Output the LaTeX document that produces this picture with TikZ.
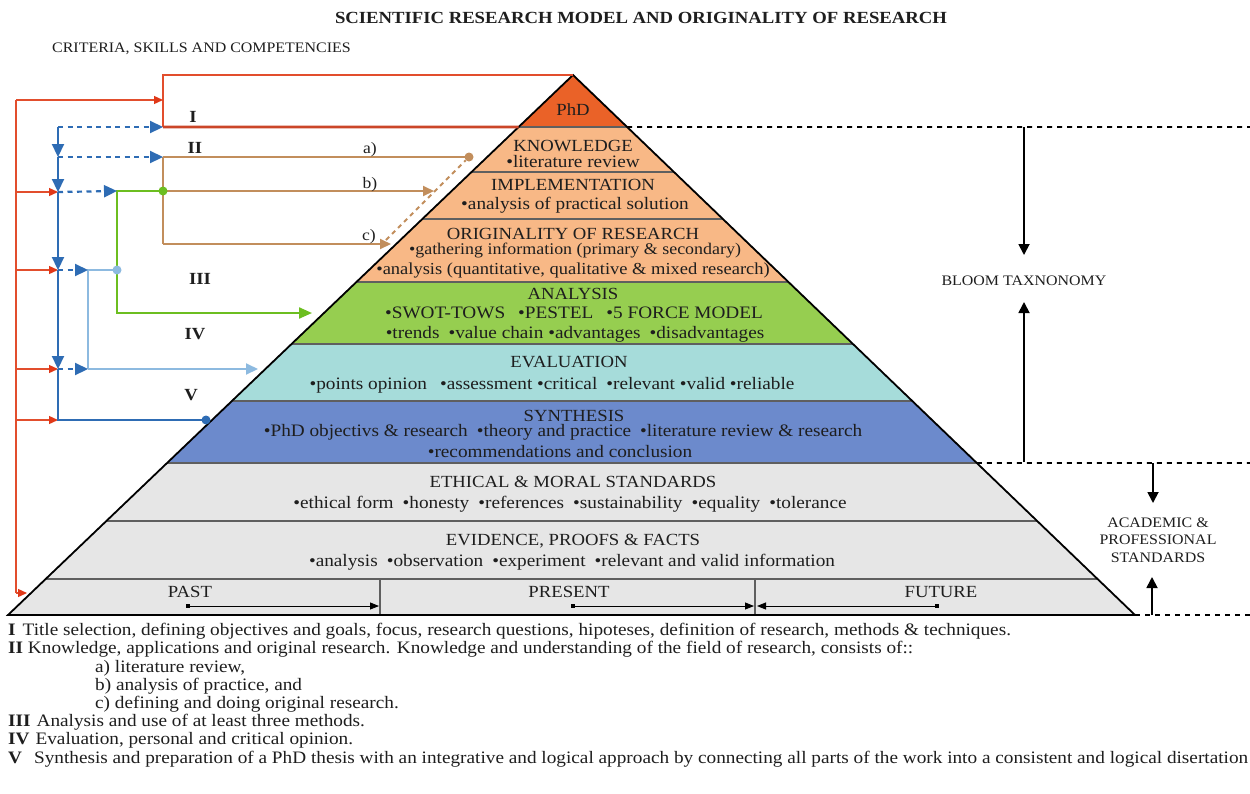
\documentclass[tikz,border=0pt]{standalone}
\usepackage{fontspec}
\setmainfont{Liberation Serif}[FakeStretch=1.1]
\usetikzlibrary{arrows.meta,calc}
\definecolor{phdc}{RGB}{234,98,40}
\definecolor{peach}{RGB}{248,184,134}
\definecolor{greenfill}{RGB}{150,206,80}
\definecolor{tealfill}{RGB}{166,220,218}
\definecolor{bluefill}{RGB}{108,138,204}
\definecolor{grayfill}{RGB}{230,230,230}
\definecolor{sepgray}{RGB}{95,95,95}
\definecolor{redline}{RGB}{226,78,45}
\definecolor{redtipc}{RGB}{224,56,24}
\definecolor{bluel}{RGB}{46,108,180}
\definecolor{lblue}{RGB}{141,186,224}
\definecolor{greenl}{RGB}{108,190,32}
\definecolor{tanl}{RGB}{194,142,92}
\definecolor{txtc}{RGB}{30,30,30}
\newcommand\pyrlayer[3]{\fill[#3] ($(A)!{(#1-75)/540}!(BL)$) -- ($(A)!{(#1-75)/540}!(BR)$) -- ($(A)!{(#2-75)/540}!(BR)$) -- ($(A)!{(#2-75)/540}!(BL)$) -- cycle;}
\newcommand\pyrsep[1]{\draw[sepline] ($(A)!{(#1-75)/540}!(BL)$) -- ($(A)!{(#1-75)/540}!(BR)$);}
\newcommand\gL{\hspace{13pt}}
\newcommand\gM{\hspace{9pt}}
\begin{document}
\begin{tikzpicture}[x=1pt,y=-1pt,
  txt/.style={inner sep=0pt, text=txtc},
  head/.style={txt, font=\fontsize{17}{17}\selectfont, anchor=base},
  bul/.style={txt, font=\fontsize{17.5}{17.5}\selectfont, anchor=base},
  rom/.style={txt, font=\fontsize{17}{17}\selectfont\bfseries, anchor=base},
  sml/.style={txt, font=\fontsize{16}{16}\selectfont, anchor=base},
  side/.style={txt, font=\fontsize{14.5}{14.5}\selectfont, anchor=base},
  leg/.style={txt, font=\fontsize{17.5}{17.5}\selectfont, anchor=base west},
  sepline/.style={draw=sepgray, line width=1.1pt},
  redl/.style={draw=redline, line width=1.3pt},
  redtip/.style={redl, -{Triangle[length=9pt,width=8pt,color=redtipc]}},
  bluel/.style={draw=bluel, line width=2.2pt},
  bluetip/.style={bluel, -{Triangle[length=13pt,width=12pt]}},
  bluedash/.style={bluetip, dash pattern=on 5pt off 4.5pt},
  tanln/.style={draw=tanl, line width=2pt},
  tantip/.style={tanln, -{Triangle[length=11pt,width=10pt]}},
  greenln/.style={draw=greenl, line width=2.2pt},
  lbln/.style={draw=lblue, line width=2pt},
  blk/.style={draw=black, line width=1.8pt, -{Triangle[length=11pt,width=11pt]}},
  blkdash/.style={draw=black, line width=1.7pt, dash pattern=on 5pt off 5pt},
  timearr/.style={draw=black, line width=0.9pt, {Square[length=4pt,width=4pt]}-{Triangle[length=9pt,width=7pt]}},
  dot/.style={circle, inner sep=0pt, minimum size=9pt}
]
\useasboundingbox (0,0) rectangle (1250,793);
\fill[white] (0,0) rectangle (1250,793);
\coordinate (A) at (573,75);
\coordinate (BL) at (8,615);
\coordinate (BR) at (1135,615);

% pyramid layers
\pyrlayer{75}{127}{phdc}
\pyrlayer{127}{282}{peach}
\pyrlayer{282}{344}{greenfill}
\pyrlayer{344}{401}{tealfill}
\pyrlayer{401}{463}{bluefill}
\pyrlayer{463}{615}{grayfill}
\pyrsep{127}\pyrsep{172}\pyrsep{219}\pyrsep{282}\pyrsep{344}
\pyrsep{401}\pyrsep{463}\pyrsep{521}\pyrsep{579}
\coordinate (tp1) at (380,579); \coordinate (tp2) at (380,615);
\coordinate (tf1) at (755,579); \coordinate (tf2) at (755,615);
\draw[sepgray, line width=1.1pt] (tp1) -- (tp2) (tf1) -- (tf2);
\draw[black, line width=1.8pt, line join=miter] (BL) -- (A) -- (BR) -- cycle;

% layer texts
\node[head] (phd) at (573,115) {PhD};
\node[head] (kn) at (573,151) {KNOWLEDGE};
\node[bul] (kn1) at (573,167) {•literature review};
\node[head] (imp) at (573,190) {IMPLEMENTATION};
\node[bul] (imp1) at (575,209) {•analysis of practical solution};
\node[head] (ori) at (573,239) {ORIGINALITY OF RESEARCH};
\node[bul, font=\fontsize{16.3}{16.3}\selectfont] (ori1) at (575,254) {•gathering information (primary \& secondary)};
\node[bul, font=\fontsize{16.8}{16.8}\selectfont] (ori2) at (573,274) {•analysis (quantitative, qualitative \& mixed research)};
\node[head] (ana) at (573,299) {ANALYSIS};
\node[bul] (ana1) at (574,318) {•SWOT-TOWS\gL •PESTEL\gL •5 FORCE MODEL};
\node[bul] (ana2) at (575,338) {•trends\gM •value chain •advantages\gM •disadvantages};
\node[head] (eva) at (569,367) {EVALUATION};
\node[bul] (eva1) at (552,389) {•points opinion\gL •assessment •critical\gM •relevant •valid •reliable};
\node[head] (syn) at (574,421) {SYNTHESIS};
\node[bul] (syn1) at (563,436) {•PhD objectivs \& research\gM •theory and practice\gM •literature review \& research};
\node[bul] (syn2) at (560,457) {•recommendations and conclusion};
\node[head] (eth) at (573,487) {ETHICAL \& MORAL STANDARDS};
\node[bul] (eth1) at (570,508) {•ethical form\gM •honesty\gM •references\gM •sustainability\gM •equality\gM •tolerance};
\node[head] (evi) at (573,545) {EVIDENCE, PROOFS \& FACTS};
\node[bul] (evi1) at (572,566) {•analysis\gM •observation\gM •experiment\gM •relevant and valid information};
\node[head] (past) at (190,597) {PAST};
\node[head] (pres) at (569,597) {PRESENT};
\node[head] (fut) at (941,597) {FUTURE};

% time arrows
\coordinate (pa0) at (186,606); \coordinate (pa1) at (379,606);
\coordinate (pr0) at (571,606); \coordinate (pr1) at (754,606);
\coordinate (fu0) at (939,606); \coordinate (fu1) at (757,606);
\draw[timearr] (pa0) -- (pa1);
\draw[timearr] (pr0) -- (pr1);
\draw[timearr] (fu0) -- (fu1);

% right side
\coordinate (R127) at ($(A)!{52/540}!(BR)$);
\coordinate (R463) at ($(A)!{388/540}!(BR)$);
\coordinate (E127) at (1250,127);
\coordinate (E463) at (1250,463);
\coordinate (E615) at (1250,615);
\draw[blkdash] (R127) -- (E127);
\draw[blkdash] (R463) -- (E463);
\draw[blkdash] (BR) -- (E615);
\node[side] (bloom) at (1024,285) {BLOOM TAXNONOMY};
\node[side] (acad1) at (1158,527) {ACADEMIC \&};
\node[side] (acad2) at (1158,544) {PROFESSIONAL};
\node[side] (acad3) at (1158,562) {STANDARDS};
\coordinate (bt0) at (1024,127); \coordinate (bt1) at (1024,462);
\coordinate (bt2) at (1024,255); \coordinate (bt3) at (1024,302);
\coordinate (as0) at (1153,463); \coordinate (as1) at (1152,615);
\coordinate (as2) at (1153,503); \coordinate (as3) at (1152,577);
\draw[blk] (bt0) -- (bt2);
\draw[blk] (bt1) -- (bt3);
\draw[blk] (as0) -- (as2);
\draw[blk] (as1) -- (as3);

% title
\node[txt, font=\fontsize{17}{17}\selectfont\bfseries, anchor=base] (title) at (641,23) {SCIENTIFIC RESEARCH MODEL AND ORIGINALITY OF RESEARCH};
\node[txt, font=\fontsize{14.5}{14.5}\selectfont, anchor=base west] (crit) at (52,52) {CRITERIA, SKILLS AND COMPETENCIES};

% box I
\coordinate (I0) at (163,75);
\coordinate (I1) at (163,127);
\coordinate (L127) at ($(A)!{52/540}!(BL)$);
\draw[redl, line width=1.6pt] (A) -- (I0) -- (I1);
\draw[draw=redline!90!black, line width=2.8pt] (I1) -- (L127);
\coordinate (Iin) at (163,100);

% red spine
\coordinate (r0) at (16,100);
\coordinate (r2) at (16,192);
\coordinate (r3) at (16,270);
\coordinate (r4) at (16,369);
\coordinate (r5) at (16,420);
\coordinate (r6) at (16,593);
\coordinate (rEnd) at (27,593);
\draw[redl] (r0) -- (r6);
\draw[redtip] (r0) -- (Iin);
\draw[redtip] (r6) -- (rEnd);

% blue spine
\coordinate (j0) at (58,127);
\coordinate (j1) at (58,157);
\coordinate (j2) at (58,192);
\coordinate (j3) at (58,270);
\coordinate (j4) at (58,369);
\coordinate (j5) at (58,420);
\draw[redtip] (r2) -- (j2);
\draw[redtip] (r3) -- (j3);
\draw[redtip] (r4) -- (j4);
\draw[redtip] (r5) -- (j5);
\draw[bluetip] (j0) -- (j1);
\draw[bluetip] (j1) -- (j2);
\draw[bluetip] (j2) -- (j3);
\draw[bluetip] (j3) -- (j4);
\node[dot, fill=bluel] (vdot) at (206,420) {};
\draw[bluel] (j4) -- (j5) -- (vdot.center);

% tan lines (II)
\coordinate (t1) at (163,157);
\coordinate (t2) at (163,191);
\coordinate (t3) at (163,244);
\node[dot, fill=tanl] (adot) at (469,157) {};
\coordinate (btip) at (434,191);
\coordinate (ctip) at (391,244);
\draw[tanln] (t1) -- (t3);
\draw[tanln] (t1) -- (adot.center);
\draw[tantip] (t2) -- (btip);
\draw[tantip] (t3) -- (ctip);
\coordinate (cd0) at (386,240);
\draw[tanln, dash pattern=on 4.5pt off 4pt] (cd0) -- (adot);

% green line (IV)
\coordinate (g1) at (117,191);
\coordinate (g2) at (117,313);
\coordinate (g3) at (312,313);
\draw[greenln, -{Triangle[length=13pt,width=11pt]}] (t2) -- (g1) -- (g2) -- (g3);
\node[dot, fill=greenl] (gdot) at (t2) {};

% light blue line
\coordinate (lb0) at (88,270);
\coordinate (lb2) at (88,369);
\coordinate (lb3) at (258,369);
\node[dot, fill=lblue] (lbdot) at (117,270) {};
\draw[lbln] (lbdot.center) -- (lb0) -- (lb2);
\draw[lbln, -{Triangle[length=12pt,width=11pt]}] (lb2) -- (lb3);

% blue dashed arrows
\draw[bluedash] (j0) -- (I1);
\draw[bluedash] (j1) -- (t1);
\draw[bluedash] (j2) -- (g1);
\draw[bluedash] (j3) -- (lb0);
\draw[bluedash] (j4) -- (lb2);

% roman labels
\node[rom] (lI) at (193,122) {I};
\node[rom] (lII) at (195,153) {II};
\node[rom] (lIII) at (200,284) {III};
\node[rom] (lIV) at (195,339) {IV};
\node[rom] (lV) at (191,400) {V};
\node[sml] (la) at (370,153) {a)};
\node[sml] (lb) at (370,188) {b)};
\node[sml] (lc) at (369,240) {c)};

% legend
\node[leg] (lg1) at (8,635) {\textbf{I}\hspace{7pt}Title selection, defining objectives and goals, focus, research questions, hipoteses, definition of research, methods \& techniques.};
\node[leg] (lg2) at (8,653) {\textbf{II} Knowledge, applications and original research. Knowledge and understanding of the field of research, consists of::};
\node[leg] (lg3) at (95,672) {a) literature review,};
\node[leg] (lg4) at (95,690) {b) analysis of practice, and};
\node[leg] (lg5) at (95,708) {c) defining and doing original research.};
\node[leg] (lg6) at (8,726) {\textbf{III}\hspace{6pt}Analysis and use of at least three methods.};
\node[leg] (lg7) at (8,744) {\textbf{IV}\hspace{6pt}Evaluation, personal and critical opinion.};
\node[leg] (lg8) at (8,763) {\textbf{V}\hspace{12pt}Synthesis and preparation of a PhD thesis with an integrative and logical approach by connecting all parts of the work into a consistent and logical disertation};
\end{tikzpicture}
\end{document}
